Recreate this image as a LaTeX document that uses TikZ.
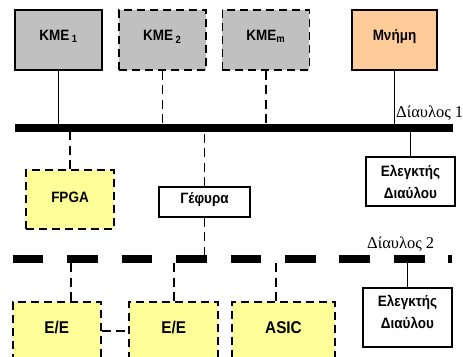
\documentclass[tikz,border=0pt]{standalone}
\usepackage{fontspec}
\newfontfamily\boxfont{Liberation Sans Bold}[FakeStretch=0.9]
\newfontfamily\busfont{Liberation Serif}
\usetikzlibrary{positioning,calc}

\definecolor{cpugray}{HTML}{C0C0C0}
\definecolor{memorange}{HTML}{FFCC99}
\definecolor{devyellow}{HTML}{FFFF99}

\begin{document}
\begin{tikzpicture}[
  x=1pt, y=-1pt,
  node distance=15pt,
  every node/.style={align=center},
  box/.style={draw, line width=1.7pt, inner sep=0pt,
    font=\boxfont\fontsize{15}{22}\selectfont},
  cpu/.style={box, fill=cpugray, minimum width=87pt, minimum height=60pt,
    text height=10.5pt, text depth=9.1pt},
  optcpu/.style={cpu, dash pattern=on 8pt off 5pt},
  memory/.style={cpu, fill=memorange, minimum width=85pt},
  device/.style={box, fill=devyellow, dash pattern=on 8pt off 5pt,
    minimum width=88pt},
  iodev/.style={device, minimum height=58pt, text height=12pt, text depth=7.4pt,
    font=\boxfont\fontsize{17}{20}\selectfont},
  ctrl/.style={box, fill=white, minimum width=89pt},
  wire/.style={line width=1.4pt},
  link/.style={line width=1.4pt, dash pattern=on 9pt off 5.5pt},
  bus/.style={line width=8pt},
  buslabel/.style={font=\busfont\fontsize{16.5}{18}\selectfont, inner sep=0pt,
    anchor=base west}
]

\useasboundingbox (0,0) rectangle (463,356);

% processors and memory
\node[cpu] (kmeA) at (58.5,40) {KME\,\textsubscript{1}};
\node[optcpu, right=of kmeA] (kmeB) {KME\,\textsubscript{2}};
\node[optcpu, right=of kmeB] (kmeM) {KME\textsubscript{m}};
\node[memory] (mem) at (394.5,40) {Μνήμη};

% bus 1
\coordinate (busA-w) at (15,128);
\coordinate (busA-e) at (453,128);
\node[buslabel] (busAlabel) at (396,117.5) {Δίαυλος 1};

\node[device, minimum height=59pt, text height=10.5pt, text depth=4.9pt] (fpga) at (70,199.5) {FPGA};
\node[ctrl, minimum width=91pt, minimum height=30pt, text height=10.5pt, text depth=7.9pt] (bridge) at (204.5,202) {Γέφυρα};
\node[ctrl, minimum height=49pt] (ctrlA) at (410.5,181.5) {Ελεγκτής\\Διαύλου};

% bus 2
\coordinate (busB-w) at (12.7,259);
\coordinate (busB-e) at (451.7,259);
\node[buslabel] (busBlabel) at (367,248) {Δίαυλος 2};

\node[iodev] (ioA) at (56.7,331) {E/E};
\node[iodev, minimum width=89pt] (ioB) at (173.8,331) {E/E};
\node[iodev, minimum width=103pt] (asic) at (283.5,331) {ASIC};
\node[ctrl, minimum height=59pt, text depth=12pt] (ctrlB) at (407.5,317.5) {Ελεγκτής\\Διαύλου};

% connections to bus 1
\draw[wire] (kmeA) -- (kmeA |- busA-w);
\draw[link] (kmeB) -- (kmeB |- busA-w);
\draw[link] (kmeM) -- (kmeM |- busA-w);
\draw[wire] (mem) -- (mem |- busA-w);
\draw[link] (fpga) -- (fpga |- busA-w);
\draw[link] (bridge) -- (bridge |- busA-w);
\draw[wire] (ctrlA) -- (ctrlA |- busA-w);

% connections to bus 2
\draw[link] (bridge) -- (bridge |- busB-w);
\draw[link] ([xshift=14.3pt]ioA.north) -- ([xshift=14.3pt]ioA.north |- busB-w);
\draw[link] (ioB) -- (ioB |- busB-w);
\draw[link] ([xshift=-7.5pt]asic.north) -- ([xshift=-7.5pt]asic.north |- busB-w);
\draw[wire] (ctrlB) -- (ctrlB |- busB-w);
\draw[link] (ioA) -- (ioB);

\draw[bus] (busA-w) -- (busA-e);
\draw[bus, dash pattern=on 30.7pt off 23.75pt] (busB-w) -- (busB-e);

\end{tikzpicture}
\end{document}
